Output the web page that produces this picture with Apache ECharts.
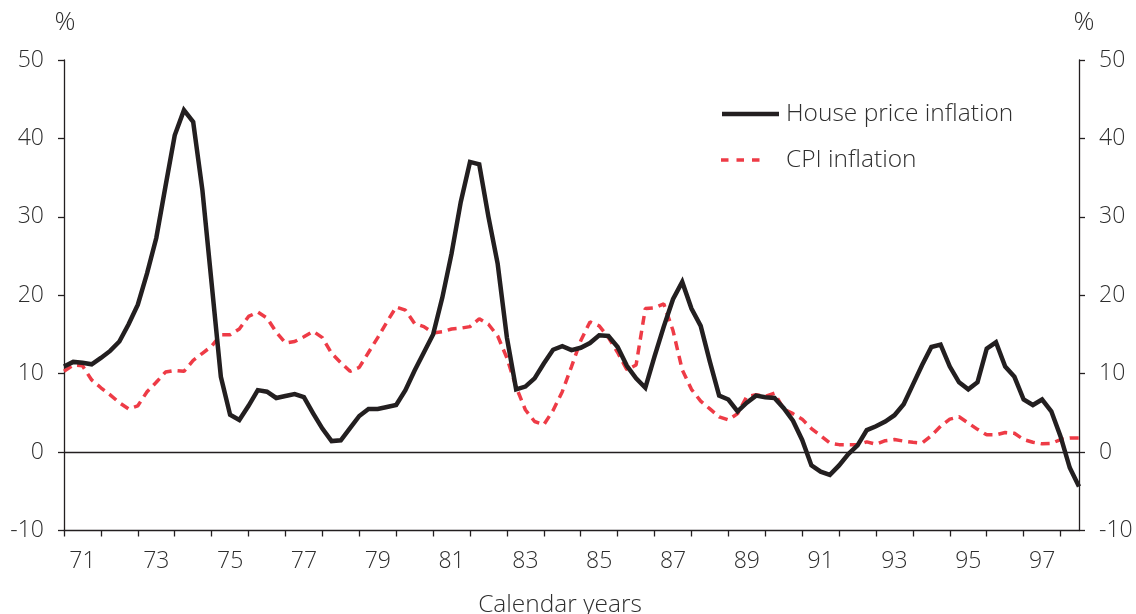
<!DOCTYPE html>
<html>
<head>
<meta charset="utf-8">
<script src="https://cdn.jsdelivr.net/npm/echarts@6/dist/echarts.min.js"></script>
<style>
html,body{margin:0;padding:0;background:#fff;}
#chart{width:1136px;height:614px;}
</style>
</head>
<body>
<div id="chart"></div>
<script>
// Quarterly data, 1971 Q1 .. 1998 Q3
const startYear = 1971;
const yearTicks = ['71','73','75','77','79','81','83','85','87','89','91','93','95','97'];
const seriesNames = ['House price inflation', 'CPI inflation'];
const houseData = [
  10.9,11.5,11.4,11.2,12.0,12.9,14.1,16.3,18.8,22.8,
  27.3,33.9,40.4,43.6,42.1,33.4,21.5,9.6,4.75,4.1,
  5.9,7.9,7.7,6.9,7.15,7.4,7.0,4.95,3.0,1.4,
  1.5,3.05,4.6,5.5,5.5,5.75,6.0,7.9,10.4,12.7,
  15.0,19.7,25.3,31.9,37.0,36.7,30.0,24.0,14.6,8.0,
  8.35,9.4,11.3,13.05,13.5,13.0,13.3,13.9,14.9,14.8,
  13.4,11.0,9.4,8.2,12.2,16.0,19.5,21.7,18.3,16.1,
  11.5,7.2,6.7,5.2,6.3,7.2,7.0,6.9,5.6,4.0,
  1.55,-1.7,-2.5,-2.9,-1.7,-0.25,0.85,2.8,3.3,3.9,
  4.7,6.1,8.6,11.1,13.4,13.7,10.9,8.9,8.0,8.9,
  13.2,14.0,10.9,9.6,6.7,6.0,6.7,5.2,2.0,-2.0,-4.4
];
const cpiData = [
  10.3,11.1,11.0,9.2,8.2,7.3,6.3,5.5,5.9,7.7,
  8.9,10.2,10.4,10.3,11.7,12.6,13.5,14.95,14.95,15.7,
  17.3,17.85,17.1,15.3,13.9,14.1,14.7,15.4,14.6,12.6,
  11.4,10.3,10.8,12.7,14.6,16.6,18.5,18.1,16.4,16.0,
  15.2,15.35,15.7,15.8,16.0,17.0,16.3,14.8,12.0,8.3,
  5.4,3.9,3.5,5.3,7.7,10.9,14.2,16.6,16.1,14.6,
  12.7,10.5,11.1,18.3,18.4,18.9,15.5,10.5,8.0,6.5,
  5.5,4.5,4.1,4.9,7.1,7.3,7.1,7.5,5.5,4.9,
  4.2,3.0,2.1,1.15,0.95,0.95,0.95,1.3,1.0,1.45,
  1.6,1.4,1.25,1.15,2.1,3.3,4.2,4.5,3.7,2.9,
  2.2,2.2,2.5,2.4,1.6,1.25,1.05,1.1,1.6,1.8,1.8
];

const toPairs = arr => arr.map((v, i) => [startYear + i / 4, v]);

const FONT = '"Open Sans", "Liberation Sans", sans-serif';
const TXT = '#2e2e2e';
const AX = '#231f20';
const HOUSE_C = '#231f20';
const CPI_C = '#ee3b46';

const yAxisBase = {
  type: 'value', min: -10, max: 50, interval: 10,
  axisLine: { show: true, lineStyle: { color: AX, width: 1.3 } },
  axisTick: { show: true, length: 6, lineStyle: { color: AX, width: 1.3 } },
  splitLine: { show: false },
  axisLabel: { fontSize: 23, color: TXT, fontFamily: FONT, fontWeight: 300, margin: 20 },
  name: '%', nameLocation: 'end', nameGap: 24
};

const chart = echarts.init(document.getElementById('chart'));
chart.setOption({
  animation: false,
  backgroundColor: '#fff',
  grid: { left: 64, right: 57, top: 60, bottom: 83.5, containLabel: false, outerBoundsMode: 'none' },
  graphic: [
    { type: 'line', shape: { x1: 722, y1: 114, x2: 779, y2: 114 },
      style: { stroke: HOUSE_C, lineWidth: 4.5 } },
    { type: 'text', x: 786, y: 114,
      style: { text: seriesNames[0], fontSize: 24.5, fontFamily: FONT, fontWeight: 300, fill: TXT, verticalAlign: 'middle' } },
    { type: 'line', shape: { x1: 721, y1: 160, x2: 760, y2: 160 },
      style: { stroke: CPI_C, lineWidth: 3.5, lineDash: [7.5, 8] } },
    { type: 'text', x: 786, y: 160,
      style: { text: seriesNames[1], fontSize: 24.5, fontFamily: FONT, fontWeight: 300, fill: TXT, verticalAlign: 'middle' } }
  ],
  xAxis: {
    type: 'value', min: startYear, max: 1998.5, interval: 1,
    axisLine: { onZero: false, lineStyle: { color: AX, width: 1.3 } },
    axisTick: { length: 6, lineStyle: { color: AX, width: 1.3 } },
    splitLine: { show: false },
    axisLabel: {
      fontSize: 23, color: TXT, fontFamily: FONT, fontWeight: 300, margin: 19,
      padding: [0, 0, 0, 37],
      showMaxLabel: false,
      formatter: v => {
        const s = String(v).slice(2);
        return Number.isInteger(v) && yearTicks.indexOf(s) >= 0 ? s : '';
      }
    },
    name: 'Calendar years', nameLocation: 'middle', nameGap: 62,
    nameTextStyle: { fontSize: 24.5, color: TXT, fontFamily: FONT, fontWeight: 300, padding: [0, 23, 0, 0] }
  },
  yAxis: [
    Object.assign({}, yAxisBase, { position: 'left',
      nameTextStyle: { fontSize: 26, color: TXT, fontFamily: FONT, fontWeight: 300, padding: [0, 0, 0, 2] } }),
    Object.assign({}, yAxisBase, { position: 'right',
      nameTextStyle: { fontSize: 26, color: TXT, fontFamily: FONT, fontWeight: 300, padding: [0, 0, 0, 10] } })
  ],
  series: [
    {
      name: seriesNames[1], type: 'line', data: toPairs(cpiData),
      symbol: 'none', z: 2,
      lineStyle: { color: CPI_C, width: 3.5, type: [9, 6] },
      itemStyle: { color: CPI_C },
      markLine: {
        silent: true, symbol: 'none', label: { show: false },
        lineStyle: { color: AX, width: 1.3, type: 'solid' },
        data: [{ yAxis: 0 }]
      }
    },
    {
      name: seriesNames[0], type: 'line', data: toPairs(houseData),
      symbol: 'none', z: 3,
      lineStyle: { color: HOUSE_C, width: 4.5, join: 'miter' },
      itemStyle: { color: HOUSE_C }
    }
  ]
});
</script>
</body>
</html>
